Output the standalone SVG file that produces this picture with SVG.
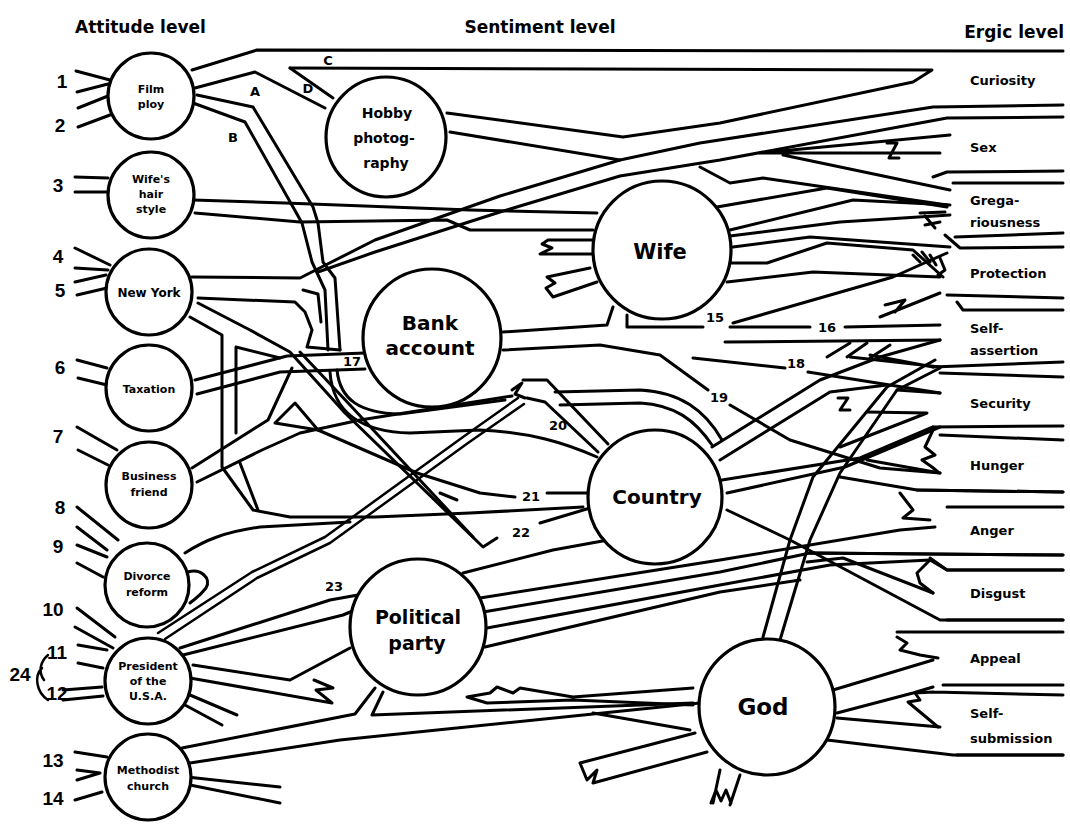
<svg xmlns="http://www.w3.org/2000/svg" width="1070" height="825" viewBox="0 0 1070 825">
<style>
.l{fill:none;stroke:#000;stroke-width:3;stroke-linejoin:round;stroke-linecap:round}
.t{fill:none;stroke:#000;stroke-width:2.5;stroke-linejoin:round;stroke-linecap:round}
.n circle{fill:#fff;stroke:#000;stroke-width:3.2}
.n text{font-family:"DejaVu Sans",sans-serif;font-weight:bold;text-anchor:middle;fill:#000}
.h{font-family:"DejaVu Sans",sans-serif;font-weight:bold;font-size:17px;fill:#000}
.e{font-family:"DejaVu Sans",sans-serif;font-weight:bold;font-size:13px;fill:#000}
.num{font-family:"Liberation Sans",sans-serif;font-weight:bold;font-size:19px;text-anchor:middle;fill:#000}
.lab{font-family:"DejaVu Sans",sans-serif;font-weight:bold;font-size:13px;text-anchor:middle;fill:#000}
</style>
<rect width="1070" height="825" fill="#fff"/>
<g id="connectors">
<path class="l" d="M76,71L110,80M77,92L108,84M78,108L108,96M78,127L110,115"/>
<path class="l" d="M75,177L108,178M75,192L108,192"/>
<path class="l" d="M75,248L110,265M75,268L108,270M75,282L106,275M77,295L107,288"/>
<path class="l" d="M77,360L107,368M78,378L107,385"/>
<path class="l" d="M77,427L117,450M78,450L108,465"/>
<path class="l" d="M77,507L118,540M77,527L107,550M77,545L107,557M77,563L103,577"/>
<path class="l" d="M77,608L115,637M75,627L113,648M78,645L107,650M78,663L103,668M63,690L102,687M63,700L103,696"/>
<path class="t" d="M48,655C40,662 38,672 44,680M42,668C34,676 36,692 48,700"/>
<path class="l" d="M75,752L107,757M77,770L100,773M77,780L100,773M75,800L102,792"/>
<path class="l" d="M192,70L257,50L1063,51"/>
<path class="l" d="M290,68L932,70L913,82L720,123L623,137L447,113"/>
<path class="l" d="M290,68L333,98"/>
<path class="l" d="M195,88L255,72L325,108"/>
<path class="l" d="M197,95L253,107L313,207L318,223L323,262L335,278L340,350"/>
<path class="l" d="M193,103L245,122L293,207L302,223L312,262L325,290L328,350"/>
<path class="l" d="M193,200L285,203L470,210L597,213"/>
<path class="l" d="M195,213L300,222L447,220L470,230L593,230"/>
<path class="l" d="M192,277L300,278L375,240L500,196L620,160L700,143L933,107L1063,105"/>
<path class="l" d="M318,272L375,252L500,212L620,176L720,160L947,118L1063,117"/>
<path class="l" d="M450,132L620,160"/>
<path class="l" d="M198,298L295,302L305,312L312,330L307,347L340,350"/>
<path class="l" d="M303,290L318,294L321,322"/>
<path class="l" d="M198,303L250,330L290,352L345,413L483,547L497,538"/>
<path class="l" d="M300,352L350,405L473,537"/>
<path class="l" d="M540,523L590,508"/>
<path class="l" d="M190,317L222,335L222,467L253,510L290,517L375,517L470,513L583,507"/>
<path class="l" d="M280,358L236,347L236,433"/>
<path class="l" d="M240,463L258,510"/>
<path class="l" d="M195,380L287,356L365,353"/>
<path class="l" d="M197,394L280,372L365,369"/>
<path class="l" d="M192,468L268,420L292,368"/>
<path class="l" d="M197,482L262,450L300,433L360,420L512,396"/>
<path class="l" d="M275,423L295,403L318,430Z"/>
<path class="l" d="M337,370C340,400 360,413 400,414L505,400"/>
<path class="l" d="M330,372C333,415 365,432 410,433L480,430C530,432 565,443 597,457"/>
<path class="l" d="M512,390L522,383L515,394L525,398"/>
<path class="l" d="M523,380L547,380L608,444"/>
<path class="l" d="M527,398L545,402L598,452"/>
<path class="l" d="M555,392L640,390C680,392 705,410 722,440"/>
<path class="l" d="M560,405L640,403C675,405 695,420 712,445"/>
<path class="t" d="M158,633L252,572L325,537L463,437L518,398"/>
<path class="t" d="M165,639L257,578L330,543L468,443L524,404"/>
<path class="l" d="M318,430L417,473L480,493L515,497M547,493L588,493"/>
<path class="l" d="M440,493L457,500"/>
<path class="l" d="M185,553C205,540 225,532 260,527L350,522"/>
<path class="l" d="M188,572C200,568 212,578 206,588C200,596 196,598 190,603"/>
<path class="l" d="M503,332L607,325L613,307"/>
<path class="l" d="M627,315L627,327L703,327M730,327L810,327M845,327L940,325"/>
<path class="l" d="M503,350L600,345L660,355L708,390M730,405L790,440L880,468L940,473"/>
<path class="l" d="M693,358L785,368M808,372L940,393"/>
<path class="l" d="M725,342L940,340"/>
<path class="l" d="M597,240L548,240L542,244L552,248L540,254L595,254"/>
<path class="l" d="M590,268L547,277L555,283L546,288L553,297L597,282"/>
<path class="l" d="M700,167L730,183L763,178L947,205"/>
<path class="l" d="M717,207L827,188L947,207"/>
<path class="l" d="M730,230L853,200L950,205"/>
<path class="l" d="M730,236L840,222L950,215"/>
<path class="l" d="M733,247L810,237L950,247"/>
<path class="l" d="M730,263L767,263L827,243L913,250L943,277"/>
<path class="l" d="M727,282L813,272L940,277"/>
<path class="l" d="M733,323L893,277L947,253"/>
<path class="l" d="M950,135L760,153L940,153M783,155L950,190"/>
<path class="l" d="M887,143L897,143L889,158L899,158"/>
<path class="l" d="M920,213L945,212M925,225L940,222M925,216L935,228"/>
<path class="l" d="M913,255L920,262M922,252L930,262M930,255L936,265M940,258L945,270L938,275"/>
<path class="l" d="M880,317L940,293M885,305L905,300L895,312"/>
<path class="l" d="M827,357L850,343M847,357L867,343M870,358L890,345"/>
<path class="l" d="M850,357L940,367M870,355L933,367"/>
<path class="l" d="M838,398L848,398L840,410L850,410"/>
<path class="l" d="M897,390L940,393M867,412L927,413L840,447"/>
<path class="l" d="M712,447L820,380L880,357L940,340"/>
<path class="l" d="M720,460L830,392L887,385"/>
<path class="l" d="M722,480L860,458L933,427"/>
<path class="l" d="M727,493L845,467L940,427"/>
<path class="l" d="M727,510L790,540L940,620L1063,620"/>
<path class="l" d="M840,477L917,490L1063,492"/>
<path class="l" d="M867,460L940,473"/>
<path class="l" d="M763,637L790,540L813,477L887,387L935,360"/>
<path class="l" d="M780,640L810,540L840,473L897,390L940,368"/>
<path class="l" d="M463,573L553,550L608,540"/>
<path class="l" d="M480,598L720,560L900,530L935,527"/>
<path class="l" d="M483,612L720,572L810,553L1063,555"/>
<path class="l" d="M487,628L720,585L830,565L930,560L947,570L1063,570"/>
<path class="l" d="M485,647L720,592L800,580"/>
<path class="l" d="M807,562L843,558L933,593"/>
<path class="l" d="M383,692L372,715L693,703"/>
<path class="l" d="M182,748L355,714L375,688"/>
<path class="l" d="M190,763L340,740L700,703"/>
<path class="l" d="M693,688L573,697L520,688L513,693L497,687L490,693L467,697L487,703L573,700L693,705"/>
<path class="l" d="M593,713L690,730"/>
<path class="l" d="M695,733L580,763L587,780L597,770L593,783L707,752"/>
<path class="l" d="M720,770L713,803M740,775L730,805M711,803L716,790L721,801L726,790L731,803"/>
<path class="l" d="M833,690L933,660M837,713L913,693L933,687M827,740L953,755L1063,755"/>
<path class="l" d="M837,718L940,727"/>
<path class="l" d="M180,648L330,600L358,595"/>
<path class="l" d="M183,655L343,615L355,610"/>
<path class="l" d="M193,665L290,680L350,648"/>
<path class="l" d="M190,678L332,703L316,690L333,688L314,680"/>
<path class="l" d="M190,695L237,715M185,705L222,725"/>
<path class="l" d="M187,777L280,787M190,785L280,803"/>
<path class="l" d="M933,177L947,172L1063,171M953,183L1063,183"/>
<path class="l" d="M955,237L1063,233M945,235L960,248L1063,247"/>
<path class="l" d="M947,295L1063,298M957,302L963,310L1063,310"/>
<path class="l" d="M933,367L1063,362M940,373L1063,377"/>
<path class="l" d="M933,427L1063,426M940,435L1063,440M933,430L925,447L935,455L922,460L932,467L938,472"/>
<path class="l" d="M917,490L1063,492M947,507L1063,507M900,493L913,510L903,518L930,520"/>
<path class="l" d="M810,553L1063,555M930,558L947,570L1063,570M930,560L917,573L920,583L933,593"/>
<path class="l" d="M947,620L1063,620M897,632L1063,632M897,637L907,643L900,650L920,655L938,658"/>
<path class="l" d="M943,685L1063,685M933,692L1063,695M933,692L915,693L920,700L908,702L938,727"/>
<path class="l" d="M957,755L1063,755"/>
</g>
<g id="n-film" class="n"><circle cx="151" cy="96" r="43"/><text x="151" y="93" font-size="11">Film</text><text x="151" y="108" font-size="11">ploy</text></g>
<g id="n-hair" class="n"><circle cx="151" cy="195" r="43"/><text x="151" y="183" font-size="11">Wife's</text><text x="151" y="198" font-size="11">hair</text><text x="151" y="213" font-size="11">style</text></g>
<g id="n-ny" class="n"><circle cx="149" cy="292" r="43"/><text x="149" y="297" font-size="12">New York</text></g>
<g id="n-tax" class="n"><circle cx="149" cy="388" r="43"/><text x="149" y="393" font-size="11">Taxation</text></g>
<g id="n-biz" class="n"><circle cx="149" cy="485" r="43"/><text x="149" y="480" font-size="11">Business</text><text x="149" y="496" font-size="11">friend</text></g>
<g id="n-div" class="n"><circle cx="147" cy="585" r="42"/><text x="147" y="580" font-size="11">Divorce</text><text x="147" y="596" font-size="11">reform</text></g>
<g id="n-pres" class="n"><circle cx="148" cy="681" r="43"/><text x="148" y="670" font-size="11">President</text><text x="148" y="685" font-size="11">of the</text><text x="148" y="700" font-size="11">U.S.A.</text></g>
<g id="n-meth" class="n"><circle cx="148" cy="777" r="43"/><text x="148" y="774" font-size="11">Methodist</text><text x="148" y="790" font-size="11">church</text></g>
<g id="n-hobby" class="n"><circle cx="386" cy="137" r="60"/><text x="387" y="118" font-size="14">Hobby</text><text x="384" y="143" font-size="14">photog-</text><text x="386" y="168" font-size="14">raphy</text></g>
<g id="n-wife" class="n"><circle cx="662" cy="250" r="69"/><text x="660" y="259" font-size="21">Wife</text></g>
<g id="n-bank" class="n"><circle cx="432" cy="338" r="69"/><text x="430" y="330" font-size="20">Bank</text><text x="430" y="355" font-size="20">account</text></g>
<g id="n-country" class="n"><circle cx="655" cy="497" r="67"/><text x="657" y="504" font-size="20">Country</text></g>
<g id="n-party" class="n"><circle cx="418" cy="627" r="68"/><text x="418" y="624" font-size="19">Political</text><text x="417" y="650" font-size="19">party</text></g>
<g id="n-god" class="n"><circle cx="767" cy="707" r="68"/><text x="763" y="715" font-size="23">God</text></g>
<g id="labels">
<text class="h" x="75" y="33">Attitude level</text>
<text class="h" x="540" y="33" text-anchor="middle">Sentiment level</text>
<text class="h" x="1064" y="38" text-anchor="end">Ergic level</text>
<text class="e" x="970" y="85">Curiosity</text>
<text class="e" x="970" y="152">Sex</text>
<text class="e" x="970" y="205">Grega-</text>
<text class="e" x="970" y="227">riousness</text>
<text class="e" x="970" y="278">Protection</text>
<text class="e" x="970" y="333">Self-</text>
<text class="e" x="970" y="355">assertion</text>
<text class="e" x="970" y="408">Security</text>
<text class="e" x="970" y="470">Hunger</text>
<text class="e" x="970" y="535">Anger</text>
<text class="e" x="970" y="598">Disgust</text>
<text class="e" x="970" y="663">Appeal</text>
<text class="e" x="970" y="718">Self-</text>
<text class="e" x="970" y="743">submission</text>
<text class="num" x="62" y="88">1</text>
<text class="num" x="60" y="132">2</text>
<text class="num" x="58" y="192">3</text>
<text class="num" x="58" y="263">4</text>
<text class="num" x="60" y="297">5</text>
<text class="num" x="60" y="374">6</text>
<text class="num" x="58" y="443">7</text>
<text class="num" x="60" y="514">8</text>
<text class="num" x="58" y="553">9</text>
<text class="num" x="53" y="616">10</text>
<text class="num" x="57" y="659">11</text>
<text class="num" x="20" y="681" font-size="15">24</text>
<text class="num" x="57" y="700">12</text>
<text class="num" x="53" y="767">13</text>
<text class="num" x="53" y="805">14</text>
<text class="lab" x="328" y="65" font-size="11">C</text>
<text class="lab" x="255" y="96" font-size="11">A</text>
<text class="lab" x="233" y="142" font-size="11">B</text>
<text class="lab" x="308" y="93" font-size="11">D</text>
<text class="lab" x="715" y="322">15</text>
<text class="lab" x="827" y="332">16</text>
<text class="lab" x="352" y="366">17</text>
<text class="lab" x="796" y="368">18</text>
<text class="lab" x="719" y="402">19</text>
<text class="lab" x="558" y="430">20</text>
<text class="lab" x="531" y="501">21</text>
<text class="lab" x="521" y="537">22</text>
<text class="lab" x="334" y="591">23</text>
</g>
</svg>
